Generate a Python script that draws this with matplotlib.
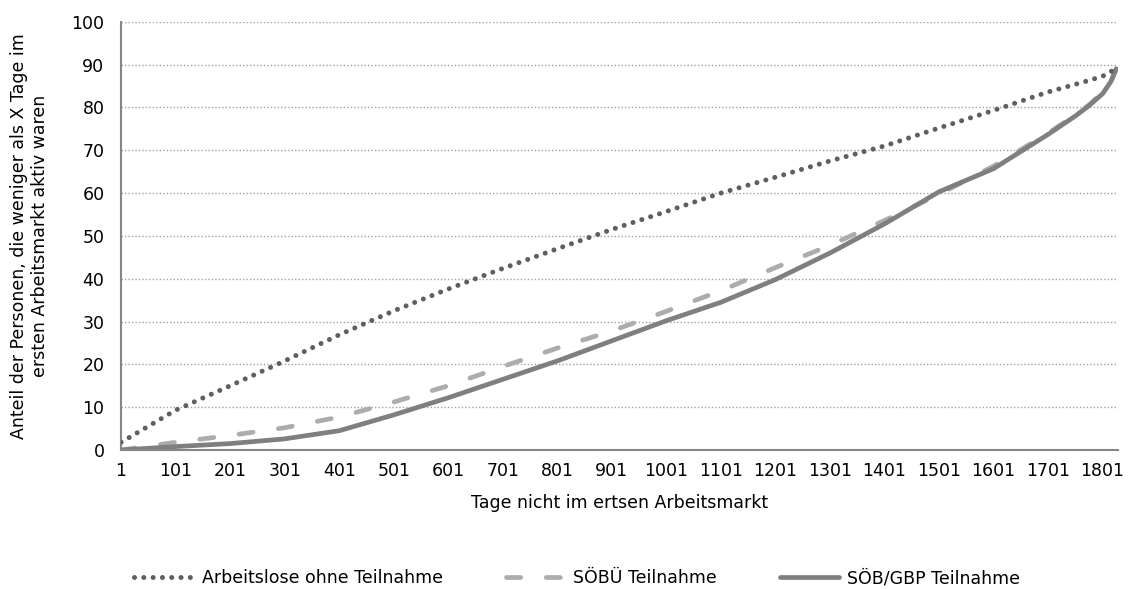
import matplotlib
matplotlib.use("Agg")
import matplotlib.pyplot as plt

# days (x) and share in % (y)
days = [1, 101, 201, 301, 401, 501, 601, 701, 801, 901, 1001,
        1101, 1201, 1301, 1401, 1501, 1601, 1701, 1751, 1776, 1801, 1816, 1826]
arbeitslos = [1.8, 9.3, 15.0, 20.8, 26.9, 32.5, 37.6, 42.4, 47.0, 51.5, 55.7,
              60.0, 63.7, 67.5, 71.0, 75.2, 79.3, 83.6, 85.4, 86.3, 87.3, 88.3, 89.5]
soebue = [0.0, 1.8, 3.4, 5.2, 7.7, 11.2, 15.0, 19.5, 23.8, 27.8, 32.4,
          37.2, 42.6, 47.8, 53.6, 59.7, 66.3, 74.0, 78.2, 80.6, 83.5, 86.0, 89.0]
soeb_gbp = [0.0, 0.8, 1.5, 2.6, 4.5, 8.2, 12.2, 16.5, 20.8, 25.5, 30.2,
            34.5, 39.8, 46.0, 52.8, 60.3, 65.7, 73.7, 78.0, 80.4, 83.2, 86.0, 89.0]

x_ticks = list(range(1, 1802, 100))
y_ticks = list(range(0, 101, 10))

plt.rcParams["font.family"] = ["DejaVu Sans"]
plt.rcParams["font.size"] = 12.5

fig = plt.figure(figsize=(11.32, 5.89), dpi=100)
ax = fig.add_axes([0.107, 0.236, 0.881, 0.727])

ax.plot(days, arbeitslos, color="#5f5f5f", lw=3.6, linestyle=(0, (0.01, 1.85)),
        dash_capstyle="round", label="Arbeitslose ohne Teilnahme", zorder=3)
ax.plot(days, soebue, color="#acacac", lw=3.4, linestyle=(0, (3.0, 5.4)),
        dash_capstyle="round", label="SÖBÜ Teilnahme", zorder=2)
ax.plot(days, soeb_gbp, color="#7f7f7f", lw=3.4, solid_capstyle="round",
        solid_joinstyle="round", label="SÖB/GBP Teilnahme", zorder=2)

ax.set_xlim(1, 1830)
ax.set_ylim(0, 100)
ax.set_xticks(x_ticks)
ax.set_xticklabels([str(t) for t in x_ticks])
ax.set_yticks(y_ticks)
ax.tick_params(length=0, pad=9)
ax.tick_params(axis="y", pad=12)

ax.grid(axis="y", color="#a0a0a0", linestyle=(0, (1, 1.5)), lw=1.0)
ax.set_axisbelow(True)
for side in ["top", "right"]:
    ax.spines[side].set_visible(False)
for side in ["left", "bottom"]:
    ax.spines[side].set_color("#868686")
    ax.spines[side].set_linewidth(1.5)

ax.set_xlabel("Tage nicht im ertsen Arbeitsmarkt", labelpad=10)
ax.set_ylabel("Anteil der Personen, die weniger als X Tage im\nersten Arbeitsmarkt aktiv waren",
              labelpad=16, linespacing=1.25)

fig.legend(loc="center", bbox_to_anchor=(0.51, 0.018), ncol=3, frameon=False,
           handlelength=3.4, handletextpad=0.5, columnspacing=3.6)

plt.savefig("out.png", dpi=100)
plt.close()
